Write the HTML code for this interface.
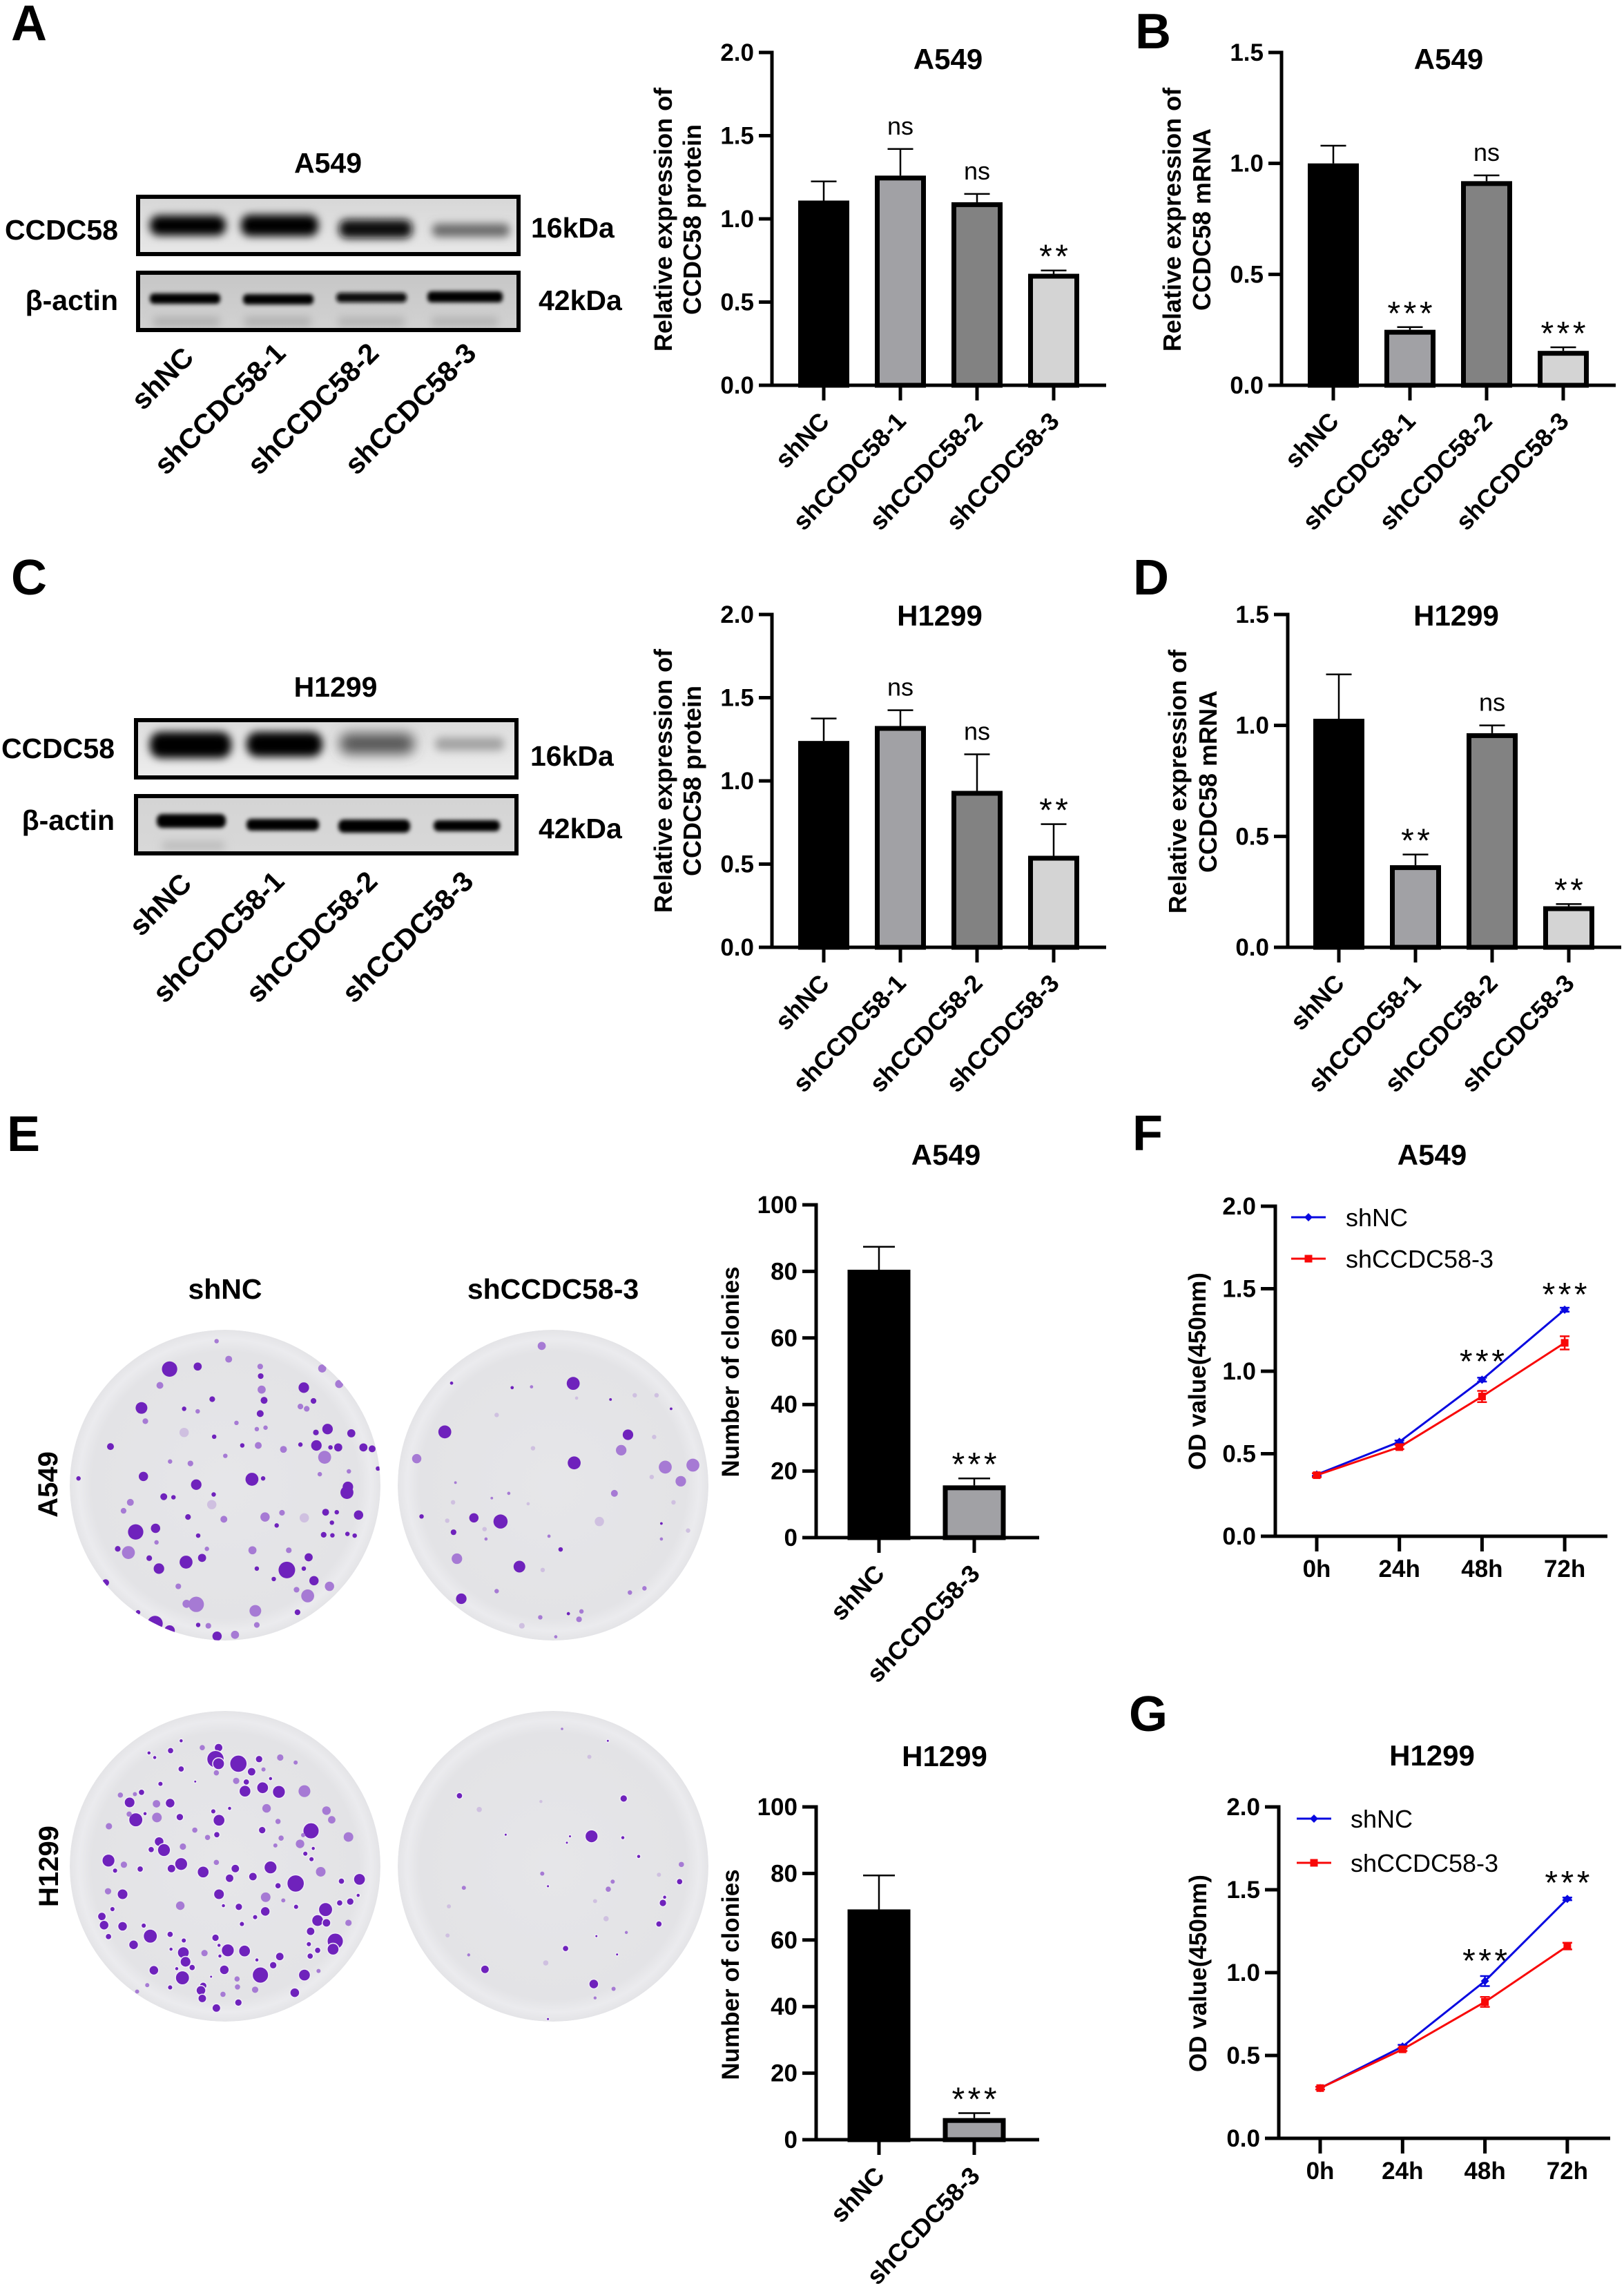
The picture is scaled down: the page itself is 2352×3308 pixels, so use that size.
<!DOCTYPE html>
<html lang="en">
<head>
<meta charset="utf-8">
<title>CCDC58 knockdown figure</title>
<style>
html,body{margin:0;padding:0;background:#fff;}
body{width:2352px;height:3308px;overflow:hidden;}
svg{display:block;}
text{font-family:"Liberation Sans",sans-serif;fill:#000;}
.b{font-weight:bold;}
.letter{font-weight:bold;font-size:72px;}
.blot-text{font-weight:bold;font-size:41px;}
.title{font-weight:bold;font-size:42px;text-anchor:middle;}
.ylab{font-weight:bold;font-size:36px;text-anchor:middle;}
.tick{font-weight:bold;font-size:35px;}
.cat{font-weight:bold;font-size:36px;}
.legend{font-size:36px;}
</style>
</head>
<body>
<svg id="fig" xmlns="http://www.w3.org/2000/svg" width="2352" height="3308" viewBox="0 0 2352 3308">
<defs>
<filter id="bl2" x="-20%" y="-120%" width="140%" height="340%"><feGaussianBlur stdDeviation="3"></feGaussianBlur></filter>
<filter id="bl5" x="-20%" y="-120%" width="140%" height="340%"><feGaussianBlur stdDeviation="6"></feGaussianBlur></filter>
<filter id="bl8" x="-20%" y="-120%" width="140%" height="340%"><feGaussianBlur stdDeviation="9"></feGaussianBlur></filter>
<linearGradient id="ga1" x1="0" y1="0" x2="0" y2="1"><stop offset="0" stop-color="#d6d6d6"></stop><stop offset="1" stop-color="#e8e8e8"></stop></linearGradient>
<linearGradient id="ga2" x1="0" y1="0" x2="0" y2="1"><stop offset="0" stop-color="#c6c6c6"></stop><stop offset="1" stop-color="#d2d2d2"></stop></linearGradient>
<linearGradient id="gc1" x1="0" y1="0" x2="0" y2="1"><stop offset="0" stop-color="#dcdcdc"></stop><stop offset="1" stop-color="#eeeeee"></stop></linearGradient>
<linearGradient id="gc2" x1="0" y1="0" x2="0" y2="1"><stop offset="0" stop-color="#d4d4d4"></stop><stop offset="1" stop-color="#d8d8d8"></stop></linearGradient>
<radialGradient id="dish" cx="0.5" cy="0.5" r="0.5"><stop offset="0" stop-color="#e6e6e9"></stop><stop offset="0.86" stop-color="#e3e3e6"></stop><stop offset="0.94" stop-color="#ebebee"></stop><stop offset="1" stop-color="#e4e4e7"></stop></radialGradient>
<clipPath id="clipA1"><rect x="197" y="282" width="557" height="89"></rect></clipPath>
<clipPath id="clipA2"><rect x="197" y="392" width="557" height="89"></rect></clipPath>
<clipPath id="clipC1"><rect x="194" y="1040" width="557" height="89"></rect></clipPath>
<clipPath id="clipC2"><rect x="194" y="1150" width="557" height="89"></rect></clipPath>
</defs>

<!-- panel letters -->
<text class="letter" x="16" y="58">A</text>
<text class="letter" x="1644" y="70">B</text>
<text class="letter" x="16" y="861">C</text>
<text class="letter" x="1641" y="861">D</text>
<text class="letter" x="10" y="1667">E</text>
<text class="letter" x="1640" y="1666">F</text>
<text class="letter" x="1635" y="2507">G</text>

<!-- western blot A549 -->
<g>
<text class="blot-text" x="475" y="250" text-anchor="middle">A549</text>
<text class="blot-text" x="171" y="347" text-anchor="end">CCDC58</text>
<text class="blot-text" x="171" y="449" text-anchor="end">β-actin</text>
<text class="blot-text" x="769" y="344">16kDa</text>
<text class="blot-text" x="780" y="449">42kDa</text>
<g clip-path="url(#clipA1)">
<rect x="197" y="282" width="557" height="89" fill="url(#ga1)"></rect>
<rect x="217" y="312" width="110" height="29" rx="13" fill="#000" filter="url(#bl5)"></rect>
<rect x="349" y="311" width="112" height="31" rx="13" fill="#000" filter="url(#bl5)"></rect>
<rect x="491" y="318" width="106" height="27" rx="11" fill="#0d0d0d" filter="url(#bl5)"></rect>
<rect x="626" y="324" width="112" height="19" rx="8" fill="#6a6a6a" filter="url(#bl5)"></rect>
</g>
<rect x="200" y="285" width="551" height="83" fill="none" stroke="#000" stroke-width="6"></rect>
<g clip-path="url(#clipA2)">
<rect x="197" y="392" width="557" height="89" fill="url(#ga2)"></rect>
<rect x="217" y="425" width="102" height="15" rx="6" fill="#000" filter="url(#bl2)"></rect>
<rect x="352" y="426" width="102" height="15" rx="6" fill="#000" filter="url(#bl2)"></rect>
<rect x="487" y="424" width="102" height="14" rx="6" fill="#0a0a0a" filter="url(#bl2)"></rect>
<rect x="619" y="422" width="109" height="16" rx="6" fill="#000" filter="url(#bl2)"></rect>
<rect x="222" y="459" width="96" height="14" fill="#b0b0b0" filter="url(#bl5)"></rect>
<rect x="354" y="459" width="96" height="14" fill="#b0b0b0" filter="url(#bl5)"></rect>
<rect x="490" y="459" width="96" height="14" fill="#b4b4b4" filter="url(#bl5)"></rect>
<rect x="625" y="459" width="96" height="14" fill="#b4b4b4" filter="url(#bl5)"></rect>
</g>
<rect x="200" y="395" width="551" height="83" fill="none" stroke="#000" stroke-width="6"></rect>
</g>

<!-- western blot H1299 -->
<g>
<text class="blot-text" x="486" y="1009" text-anchor="middle">H1299</text>
<text class="blot-text" x="166" y="1098" text-anchor="end">CCDC58</text>
<text class="blot-text" x="166" y="1202" text-anchor="end">β-actin</text>
<text class="blot-text" x="768" y="1109">16kDa</text>
<text class="blot-text" x="780" y="1214">42kDa</text>
<g clip-path="url(#clipC1)">
<rect x="194" y="1040" width="557" height="89" fill="url(#gc1)"></rect>
<rect x="217" y="1060" width="118" height="38" rx="16" fill="#000" filter="url(#bl5)"></rect>
<rect x="357" y="1060" width="110" height="36" rx="16" fill="#000" filter="url(#bl5)"></rect>
<rect x="492" y="1062" width="108" height="30" rx="13" fill="#555" filter="url(#bl8)"></rect>
<rect x="630" y="1068" width="100" height="19" rx="8" fill="#a2a2a2" filter="url(#bl5)"></rect>
</g>
<rect x="197" y="1043" width="551" height="83" fill="none" stroke="#000" stroke-width="6"></rect>
<g clip-path="url(#clipC2)">
<rect x="194" y="1150" width="557" height="89" fill="url(#gc2)"></rect>
<rect x="227" y="1179" width="100" height="20" rx="8" fill="#000" filter="url(#bl2)"></rect>
<rect x="357" y="1186" width="105" height="17" rx="7" fill="#000" filter="url(#bl2)"></rect>
<rect x="490" y="1187" width="104" height="19" rx="8" fill="#000" filter="url(#bl2)"></rect>
<rect x="628" y="1188" width="96" height="16" rx="7" fill="#000" filter="url(#bl2)"></rect>
<rect x="235" y="1218" width="90" height="14" fill="#bdbdbd" filter="url(#bl5)"></rect>
</g>
<rect x="197" y="1153" width="551" height="83" fill="none" stroke="#000" stroke-width="6"></rect>
</g>

<!-- static titles -->
<text class="title" x="1373" y="100">A549</text>
<text class="title" x="2098" y="100">A549</text>
<text class="title" x="1361" y="906">H1299</text>
<text class="title" x="2109" y="906">H1299</text>
<text class="title" x="1370" y="1687">A549</text>
<text class="title" x="1368" y="2558">H1299</text>
<text class="title" x="2074" y="1687">A549</text>
<text class="title" x="2074" y="2557">H1299</text>

<!-- y-axis titles -->
<g>
<text class="ylab" transform="translate(973 318) rotate(-90)">Relative expression of</text>
<text class="ylab" transform="translate(1015 318) rotate(-90)">CCDC58 protein</text>
</g>
<g>
<text class="ylab" transform="translate(1710 318) rotate(-90)">Relative expression of</text>
<text class="ylab" transform="translate(1753 318) rotate(-90)">CCDC58 mRNA</text>
</g>
<g>
<text class="ylab" transform="translate(973 1131) rotate(-90)">Relative expression of</text>
<text class="ylab" transform="translate(1015 1131) rotate(-90)">CCDC58 protein</text>
</g>
<g>
<text class="ylab" transform="translate(1718 1132) rotate(-90)">Relative expression of</text>
<text class="ylab" transform="translate(1762 1132) rotate(-90)">CCDC58 mRNA</text>
</g>
<text class="ylab" style="font-size:35px" transform="translate(1070 1987) rotate(-90)">Number of clonies</text>
<text class="ylab" style="font-size:35px" transform="translate(1070 2860) rotate(-90)">Number of clonies</text>
<text class="ylab" style="font-size:35px" transform="translate(1746 1986) rotate(-90)">OD value(450nm)</text>
<text class="ylab" style="font-size:35px" transform="translate(1747 2858) rotate(-90)">OD value(450nm)</text>

<!-- plate labels -->
<text class="blot-text" x="326" y="1881" text-anchor="middle">shNC</text>
<text class="blot-text" x="801" y="1881" text-anchor="middle">shCCDC58-3</text>
<text class="blot-text" style="font-size:40px" text-anchor="middle" transform="translate(83 2150) rotate(-90)">A549</text>
<text class="blot-text" style="font-size:40px" text-anchor="middle" transform="translate(84 2703) rotate(-90)">H1299</text>
</svg>

<script>
/* ---------- chart data ---------- */
const laneNames = ["shNC", "shCCDC58-1", "shCCDC58-2", "shCCDC58-3"];
const pairNames = ["shNC", "shCCDC58-3"];
const timeLabels = ["0h", "24h", "48h", "72h"];

const ticks20 = ["0.0", "0.5", "1.0", "1.5", "2.0"];
const ticks15 = ["0.0", "0.5", "1.0", "1.5"];
const ticks100 = ["0", "20", "40", "60", "80", "100"];

const a549ProteinValues = [1.11, 1.26, 1.10, 0.67];
const a549ProteinErrors = [0.115, 0.16, 0.05, 0.02];
const a549ProteinSig = ["", "ns", "ns", "**"];

const a549MrnaValues = [1.0, 0.25, 0.92, 0.155];
const a549MrnaErrors = [0.08, 0.012, 0.026, 0.016];
const a549MrnaSig = ["", "***", "ns", "***"];

const h1299ProteinValues = [1.24, 1.33, 0.94, 0.55];
const h1299ProteinErrors = [0.135, 0.095, 0.22, 0.19];
const h1299ProteinSig = ["", "ns", "ns", "**"];

const h1299MrnaValues = [1.03, 0.37, 0.965, 0.185];
const h1299MrnaErrors = [0.20, 0.048, 0.035, 0.01];
const h1299MrnaSig = ["", "**", "ns", "**"];

const a549CloneValues = [80.5, 15.7];
const a549CloneErrors = [6.9, 2.1];
const a549CloneSig = ["", "***"];

const h1299CloneValues = [69.2, 6.5];
const h1299CloneErrors = [10.2, 1.5];
const h1299CloneSig = ["", "***"];

const a549OdControl = [0.374, 0.572, 0.949, 1.373];
const a549OdControlErr = [0.008, 0.008, 0.012, 0.012];
const a549OdKnock = [0.37, 0.54, 0.847, 1.172];
const a549OdKnockErr = [0.012, 0.012, 0.034, 0.04];
const a549OdSig = ["", "", "***", "***"];

const h1299OdControl = [0.303, 0.554, 0.949, 1.445];
const h1299OdControlErr = [0.008, 0.01, 0.03, 0.008];
const h1299OdKnock = [0.303, 0.537, 0.823, 1.16];
const h1299OdKnockErr = [0.008, 0.01, 0.03, 0.02];
const h1299OdSig = ["", "", "***", "***"];

/* blot lane captions */
const blotLaneNames = ["shNC", "shCCDC58-1", "shCCDC58-2", "shCCDC58-3"];

/* plate photographs: colonies as [x, y, r, tone], coordinates in plate-sketch units */
const plateA = [[350,497,12,0],[408,488,6,0],[472,462,5,1],[447,398,3,1],[537,488,4,1],[538,522,4,0],[540,570,6,1],[545,608,5,0],[627,563,8,0],[647,610,4,0],[537,655,5,0],[620,630,4,1],[633,638,4,1],[665,495,6,1],[700,550,6,1],[330,555,5,1],[292,635,9,0],[300,682,4,1],[380,638,3,0],[408,647,3,1],[438,604,4,0],[488,688,3,1],[530,710,3,1],[548,705,3,1],[676,710,8,0],[652,722,4,0],[725,725,6,0],[653,768,8,0],[620,765,3,0],[698,775,6,0],[682,775,3,0],[750,775,6,0],[768,780,5,0],[585,782,5,1],[533,768,5,1],[500,768,3,0],[228,772,5,0],[670,810,10,1],[380,722,7,2],[442,737,3,0],[351,825,3,1],[393,832,4,1],[465,805,3,1],[296,878,7,0],[162,885,3,0],[520,888,10,0],[543,885,3,0],[405,907,8,0],[718,915,8,0],[716,935,10,0],[660,870,3,1],[720,860,3,1],[780,850,3,0],[338,950,5,0],[358,952,3,0],[269,970,5,1],[255,1000,4,1],[441,942,3,0],[437,978,7,2],[388,1022,4,0],[462,1030,5,1],[547,1022,7,1],[628,1025,7,2],[582,1007,4,1],[672,1005,5,0],[695,1005,3,0],[740,1015,7,0],[685,1042,3,0],[571,1052,3,0],[280,1075,12,0],[321,1062,7,0],[409,1088,3,0],[323,1112,3,1],[668,1085,4,0],[686,1087,3,0],[717,1082,3,0],[732,1088,3,0],[243,1135,4,0],[265,1148,10,1],[521,1140,6,1],[596,1140,4,1],[427,1135,3,1],[308,1168,4,0],[384,1182,10,0],[417,1167,6,0],[637,1165,6,0],[328,1205,8,0],[592,1210,13,0],[627,1205,3,0],[530,1205,3,0],[648,1248,7,0],[680,1268,7,1],[565,1242,3,0],[218,1255,5,0],[368,1268,4,1],[612,1280,4,1],[635,1302,10,1],[405,1332,12,1],[385,1330,6,1],[527,1355,9,1],[614,1360,4,0],[285,1360,3,0],[320,1400,12,0],[350,1425,8,0],[448,1445,7,0],[430,1408,4,1],[530,1405,4,1],[409,1405,3,0],[485,1440,6,1],[280,1372,3,0]];
const plateB = [[1183,548,10,0],[1185,830,10,0],[918,720,10,0],[1296,730,8,0],[1282,785,8,1],[1373,845,10,1],[1430,838,10,1],[1405,895,8,1],[1118,415,6,1],[860,815,7,1],[978,1025,7,0],[1033,1038,11,0],[1072,1198,9,0],[952,1312,8,0],[943,1170,8,1],[936,1076,4,0],[870,1020,3,0],[1157,1137,3,0],[1268,938,5,1],[1237,1038,7,2],[1057,563,2,0],[1097,560,2,1],[932,547,2,0],[1025,660,3,2],[1100,778,3,2],[1190,600,2,2],[1310,590,3,2],[1355,590,3,2],[1385,638,1.5,0],[1260,605,1.5,0],[1350,738,3,2],[1345,880,3,2],[940,900,1.5,1],[1050,938,2,1],[935,970,3,2],[1015,955,1.5,1],[1090,975,2,2],[1390,970,3,2],[1365,1045,1.5,0],[1133,1090,2,1],[1420,1070,3,2],[1300,1290,3,1],[1330,1275,3,1],[1115,1378,3,1],[1173,1365,2,0],[1200,1357,3,1],[1195,1385,4,1],[1077,1408,4,2],[1147,1447,2,1],[1025,1285,3,1],[1000,1065,3,2],[1003,1100,2,1],[1365,1100,2,1],[1120,1210,3,2],[923,1035,3,2]];
const plateC = [[465,275,7,0],[428,275,4,1],[380,245,3,0],[356,288,5,0],[307,298,3,0],[320,318,3,0],[458,325,15,0],[465,345,10,0],[510,345,15,0],[557,325,6,0],[605,318,5,1],[640,340,3,1],[380,368,5,0],[540,380,7,0],[567,370,3,1],[460,385,4,1],[505,420,5,1],[528,425,5,0],[583,410,3,0],[333,433,4,0],[412,423,2,0],[525,465,10,0],[565,450,10,0],[602,468,11,0],[660,465,10,1],[290,470,5,0],[275,478,3,1],[242,482,4,1],[263,514,9,0],[324,520,6,1],[355,517,8,0],[574,540,7,1],[490,540,3,0],[453,553,4,0],[277,590,12,0],[262,565,4,1],[298,563,3,0],[325,580,8,1],[377,578,6,0],[466,592,10,0],[600,597,4,1],[710,550,7,1],[722,590,6,1],[216,618,5,1],[564,635,6,0],[675,638,14,0],[760,665,8,1],[411,635,4,1],[461,655,5,0],[657,657,3,1],[607,670,4,1],[440,667,4,1],[330,685,8,0],[341,722,11,0],[312,720,5,0],[650,695,7,1],[384,707,5,1],[594,702,3,1],[680,715,3,0],[662,738,4,0],[676,762,4,0],[215,768,11,0],[250,786,5,1],[460,776,4,1],[380,783,11,0],[358,803,7,0],[287,805,5,0],[230,812,4,0],[583,798,11,0],[503,803,7,0],[697,817,8,1],[430,818,10,0],[490,845,7,0],[543,838,7,0],[744,858,5,0],[640,868,15,0],[600,878,5,0],[785,850,10,0],[214,902,5,1],[247,915,9,0],[466,915,9,0],[572,928,8,1],[612,942,3,1],[782,920,3,0],[764,947,6,0],[740,953,5,0],[378,965,7,1],[511,970,6,0],[476,965,3,0],[641,970,4,0],[224,980,4,0],[708,982,12,0],[571,990,8,0],[200,1012,7,0],[690,1030,10,0],[710,1040,7,0],[548,1015,4,0],[518,1045,4,0],[205,1050,8,0],[247,1055,8,0],[295,1052,4,0],[760,1040,5,1],[674,1077,7,0],[310,1098,12,0],[215,1100,5,0],[355,1090,5,0],[458,1105,6,0],[730,1120,14,0],[725,1155,10,0],[386,1117,4,0],[272,1136,8,0],[466,1138,3,0],[670,1133,4,0],[357,1155,3,0],[486,1160,11,0],[524,1163,10,0],[690,1160,5,0],[385,1170,10,0],[433,1172,5,1],[468,1185,3,0],[604,1187,7,0],[673,1185,5,0],[390,1210,9,0],[552,1202,3,0],[589,1225,6,0],[405,1235,5,0],[318,1247,8,0],[370,1240,3,0],[478,1245,8,0],[560,1268,14,0],[660,1268,10,0],[383,1280,12,0],[448,1275,2,0],[692,1250,3,1],[507,1285,4,1],[430,1315,6,0],[355,1322,4,0],[303,1312,3,1],[638,1345,8,0],[548,1332,5,1],[425,1335,8,0],[508,1320,4,1],[475,1352,4,1],[428,1370,7,0],[510,1388,6,0],[460,1412,7,0],[280,1340,3,1]];
const plateD = [[1312,662,11,0],[1385,497,6,0],[1012,485,5,0],[1057,545,4,2],[1383,668,3,0],[1117,655,2,0],[1263,662,2,0],[1256,690,2,0],[1419,750,3,0],[1516,785,4,1],[1512,860,5,0],[1200,825,3,1],[1213,880,2,0],[1360,860,3,1],[1350,893,4,1],[1022,887,3,1],[1478,928,3,0],[1474,953,6,0],[1465,1045,5,0],[1253,1152,5,0],[1070,1243,7,0],[1317,1307,8,0],[1362,1328,3,1],[1370,1178,2,0],[1391,1082,2,1],[1323,1098,2,0],[1033,1180,2,1],[1349,245,2,0],[1307,315,3,2],[1197,510,2,2],[1245,193,1.5,1],[1320,945,3,2],[988,968,3,2],[1345,1022,4,2],[1208,1215,4,2],[1213,1460,2,0],[1320,1368,2,1],[1465,830,3,2],[985,1095,3,2]];

/* ---------- helpers ---------- */
const NS = "http://www.w3.org/2000/svg";
const fig = document.getElementById("fig");
function mk(tag, attrs, parent, txt) {
  const n = document.createElementNS(NS, tag);
  for (const k in attrs) n.setAttribute(k, attrs[k]);
  if (txt !== undefined) n.textContent = txt;
  (parent || fig).appendChild(n);
  return n;
}
const AXIS = 5;
const STAR_SIZE = 48;
const STAR_TRACK = 4.5;

function drawAxes(g, cfg, yOf, xPositions) {
  const yLine = mk("line", {x1:cfg.axisX, x2:cfg.axisX, y1:cfg.yTop-AXIS/2, y2:cfg.yBase+AXIS/2, stroke:"#000","stroke-width":AXIS}, g);
  
  
  const xLine = mk("line", {x1:cfg.xStart, x2:cfg.xEnd, y1:cfg.yBase, y2:cfg.yBase, stroke:"#000","stroke-width":AXIS}, g);
  
  
  cfg.ticks.forEach(function (t) {
    const y = yOf(parseFloat(t));
    const tk = mk("line", {x1:cfg.xStart, x2:cfg.axisX, y1:y, y2:y, stroke:"#000","stroke-width":AXIS}, g);
    
    
    const lb = mk("text", {x:cfg.xStart-7, y:y+12, "text-anchor":"end", "class":"tick"}, g, t);
    
    
  });
  xPositions.forEach(function (x) {
    const tk = mk("line", {x1:x, x2:x, y1:cfg.yBase, y2:cfg.yBase+22, stroke:"#000","stroke-width":AXIS}, g);
    
    
  });
}

function drawSig(g, x, capY, s) {
  if (!s) return;
  if (s === "ns") {
    const t = mk("text", {x:x, y:capY-21, "text-anchor":"middle", "font-size":36}, g, s);
    
    
  } else {
    const t = mk("text", {x:x+STAR_TRACK/2, y:capY-4, "text-anchor":"middle", "font-size":STAR_SIZE, "letter-spacing":STAR_TRACK}, g, s);
    
    
  }
}

function barChart(cfg) {
  const g = mk("g", {});
  
  
  const yMax = parseFloat(cfg.ticks[cfg.ticks.length-1]);
  const yOf = function (v) { return cfg.yBase - v / yMax * (cfg.yBase - cfg.yTop); };
  const xOf = function (i) { return cfg.first + i * cfg.step; };
  const fills = cfg.fills;
  cfg.values.forEach(function (v, i) {
    const x = xOf(i), top = yOf(v), capY = yOf(v + cfg.errors[i]);
    const stem = mk("line", {x1:x, x2:x, y1:top, y2:capY, stroke:"#000","stroke-width":2.5}, g);
    
    
    const cap = mk("line", {x1:x-cfg.cap, x2:x+cfg.cap, y1:capY, y2:capY, stroke:"#000","stroke-width":2.5}, g);
    
    
    const bar = mk("rect", {x:x-cfg.barW/2+3.5, y:top+3.5, width:cfg.barW-7, height:Math.max(0, cfg.yBase-top-3.5), fill:fills[i], stroke:"#000","stroke-width":7}, g);
    
    
    drawSig(g, x, capY, cfg.sig[i]);
    const lb = mk("text", {"text-anchor":"end", "class":"cat", transform:"translate(" + (x+10) + " " + (cfg.yBase+54) + ") rotate(-46.5)"}, g, cfg.categories[i]);
    
    
  });
  drawAxes(g, cfg, yOf, cfg.values.map(function (_, i) { return xOf(i); }));
}

function lineChart(cfg) {
  const g = mk("g", {});
  
  
  const yMax = parseFloat(cfg.ticks[cfg.ticks.length-1]);
  const yOf = function (v) { return cfg.yBase - v / yMax * (cfg.yBase - cfg.yTop); };
  const xOf = function (i) { return cfg.first + i * cfg.step; };
  function series(vals, errs, color, marker, nm) {
    const pts = vals.map(function (v, i) { return xOf(i) + "," + yOf(v); }).join(" ");
    const pl = mk("polyline", {points:pts, fill:"none", stroke:color, "stroke-width":3}, g);
    
    
    vals.forEach(function (v, i) {
      const x = xOf(i), y = yOf(v), u = yOf(v + errs[i]), d = yOf(v - errs[i]);
      const e = mk("path", {d:"M"+(x-7)+" "+u+"H"+(x+7)+"M"+x+" "+u+"V"+d+"M"+(x-7)+" "+d+"H"+(x+7), fill:"none", stroke:color, "stroke-width":2.5}, g);
      
      
      let m;
      if (marker === "diamond") m = mk("path", {d:"M"+x+" "+(y-6)+"L"+(x+6)+" "+y+"L"+x+" "+(y+6)+"L"+(x-6)+" "+y+"Z", fill:color}, g);
      else m = mk("rect", {x:x-5.5, y:y-5.5, width:11, height:11, fill:color}, g);
      
      
    });
  }
  series(cfg.control, cfg.controlErr, "#0808e0", "diamond", "shnc");
  series(cfg.knock, cfg.knockErr, "#f80808", "square", "shccdc58-3");
  cfg.sig.forEach(function (s, i) {
    if (!s) return;
    const top = yOf(Math.max(cfg.control[i], cfg.knock[i]));
    const t = mk("text", {x:xOf(i)+STAR_TRACK/2, y:top-cfg.sigGap[i]+23, "text-anchor":"middle", "font-size":STAR_SIZE, "letter-spacing":STAR_TRACK}, g, s);
    
    
  });
  drawAxes(g, cfg, yOf, cfg.labels.map(function (_, i) { return xOf(i); }));
  cfg.labels.forEach(function (l, i) {
    const t = mk("text", {x:xOf(i), y:cfg.yBase+59, "text-anchor":"middle", "class":"tick"}, g, l);
    
    
  });
  const lg = mk("g", {}, g);
  
  
  const l1 = mk("line", {x1:cfg.lx, x2:cfg.lx+cfg.lw, y1:cfg.ly1, y2:cfg.ly1, stroke:"#0808e0","stroke-width":3}, lg);
  
  
  const cx = cfg.lx + cfg.lw / 2;
  const d1 = mk("path", {d:"M"+cx+" "+(cfg.ly1-6)+"L"+(cx+6)+" "+cfg.ly1+"L"+cx+" "+(cfg.ly1+6)+"L"+(cx-6)+" "+cfg.ly1+"Z", fill:"#0808e0"}, lg);
  
  
  const t1 = mk("text", {x:cfg.tx, y:cfg.ly1+13, "class":"legend"}, lg, "shNC");
  
  
  const l2 = mk("line", {x1:cfg.lx, x2:cfg.lx+cfg.lw, y1:cfg.ly2, y2:cfg.ly2, stroke:"#f80808","stroke-width":3}, lg);
  
  
  const d2 = mk("rect", {x:cx-5.5, y:cfg.ly2-5.5, width:11, height:11, fill:"#f80808"}, lg);
  
  
  const t2 = mk("text", {x:cfg.tx, y:cfg.ly2+13, "class":"legend"}, lg, "shCCDC58-3");
  
  
}

function plate(name, cx, cy, rx, ry, colonies, ox, oy, sx, sy, halo) {
  const id = "clip-" + name;
  const defs = mk("clipPath", {id:id});
  mk("ellipse", {cx:cx, cy:cy, rx:rx, ry:ry}, defs);
  const g = mk("g", {"clip-path":"url(#" + id + ")"});
  
  
  mk("ellipse", {cx:cx, cy:cy, rx:rx, ry:ry, fill:"url(#dish)"}, g);
  const tones = ["#6f22bc", "#a67ad4", "#cfc0e0"];
  colonies.forEach(function (c) {
    const r = c[2] / sx * 1.25 + 0.6;
    const dot = mk("circle", {cx:ox + c[0] / sx, cy:oy + c[1] / sy, r:r, fill:tones[c[3]]}, g);
    if (halo && c[3] === 0) { dot.setAttribute("stroke", "#f1edf6"); dot.setAttribute("stroke-width", "1.5"); }
  });
}

/* ---------- plates ---------- */
plate("colony-plate-a549-shnc", 326, 2151, 225, 225, plateA, 0, 1780, 1.425, 2.45, false);
plate("colony-plate-a549-shccdc58-3", 801, 2151, 225, 225, plateB, 0, 1780, 1.425, 2.45, false);
plate("colony-plate-h1299-shnc", 326, 2703, 225, 225, plateC, 20, 2440, 1.568, 3.015, true);
plate("colony-plate-h1299-shccdc58-3", 801, 2703, 225, 225, plateD, 20, 2440, 1.568, 3.015, true);

/* ---------- blot lane labels ---------- */
const blotLaneAnchorsA = [[283, 520], [416, 514], [551, 514], [692, 514]];
const blotLaneAnchorsC = [[280, 1282], [414, 1279], [549, 1279], [688, 1279]];
function blotLanes(anchors, nm) {
  blotLaneNames.forEach(function (l, i) {
    const t = mk("text", {"text-anchor":"end", "class":"b", "font-size":41, transform:"translate(" + anchors[i][0] + " " + anchors[i][1] + ") rotate(-45)"}, fig, l);
    
    
  });
}
blotLanes(blotLaneAnchorsA, "blot-lane-label-a549");
blotLanes(blotLaneAnchorsC, "blot-lane-label-h1299");

/* ---------- bar charts ---------- */
const fourFills = ["#000000", "#a1a1a5", "#828282", "#d4d4d4"];
const twoFills = ["#000000", "#a1a1a5"];
barChart({name:"bar-chart-a549-protein", axisX:1118, xStart:1099, xEnd:1602, yTop:76, yBase:558, first:1193, step:111, barW:74, cap:18.5, ticks:ticks20, categories:laneNames, values:a549ProteinValues, errors:a549ProteinErrors, sig:a549ProteinSig, fills:fourFills});
barChart({name:"bar-chart-a549-mrna", axisX:1856, xStart:1837, xEnd:2340, yTop:76, yBase:558, first:1931, step:111, barW:74, cap:18.5, ticks:ticks15, categories:laneNames, values:a549MrnaValues, errors:a549MrnaErrors, sig:a549MrnaSig, fills:fourFills});
barChart({name:"bar-chart-h1299-protein", axisX:1118, xStart:1099, xEnd:1602, yTop:890, yBase:1372, first:1193, step:111, barW:74, cap:18.5, ticks:ticks20, categories:laneNames, values:h1299ProteinValues, errors:h1299ProteinErrors, sig:h1299ProteinSig, fills:fourFills});
barChart({name:"bar-chart-h1299-mrna", axisX:1865, xStart:1845, xEnd:2348, yTop:890, yBase:1372, first:1939, step:111, barW:74, cap:18.5, ticks:ticks15, categories:laneNames, values:h1299MrnaValues, errors:h1299MrnaErrors, sig:h1299MrnaSig, fills:fourFills});
barChart({name:"bar-chart-a549-clones", axisX:1182, xStart:1162, xEnd:1505, yTop:1745, yBase:2227, first:1273, step:138, barW:91, cap:23, ticks:ticks100, categories:pairNames, values:a549CloneValues, errors:a549CloneErrors, sig:a549CloneSig, fills:twoFills});
barChart({name:"bar-chart-h1299-clones", axisX:1182, xStart:1162, xEnd:1505, yTop:2617, yBase:3099, first:1273, step:138, barW:91, cap:23, ticks:ticks100, categories:pairNames, values:h1299CloneValues, errors:h1299CloneErrors, sig:h1299CloneSig, fills:twoFills});

/* ---------- line charts ---------- */
lineChart({name:"line-chart-a549-od", axisX:1847, xStart:1826, xEnd:2328, yTop:1747, yBase:2225, first:1907, step:119.7, ticks:ticks20, labels:timeLabels, control:a549OdControl, controlErr:a549OdControlErr, knock:a549OdKnock, knockErr:a549OdKnockErr, sig:a549OdSig, sigGap:[0,0,33,29], lx:1870, lw:50, ly1:1763, ly2:1823, tx:1949});
lineChart({name:"line-chart-h1299-od", axisX:1852, xStart:1832, xEnd:2332, yTop:2617, yBase:3097, first:1912, step:119.3, ticks:ticks20, labels:timeLabels, control:h1299OdControl, controlErr:h1299OdControlErr, knock:h1299OdKnock, knockErr:h1299OdKnockErr, sig:h1299OdSig, sigGap:[0,0,36,30], lx:1878, lw:50, ly1:2634, ly2:2698, tx:1956});
</script>
</body>
</html>
